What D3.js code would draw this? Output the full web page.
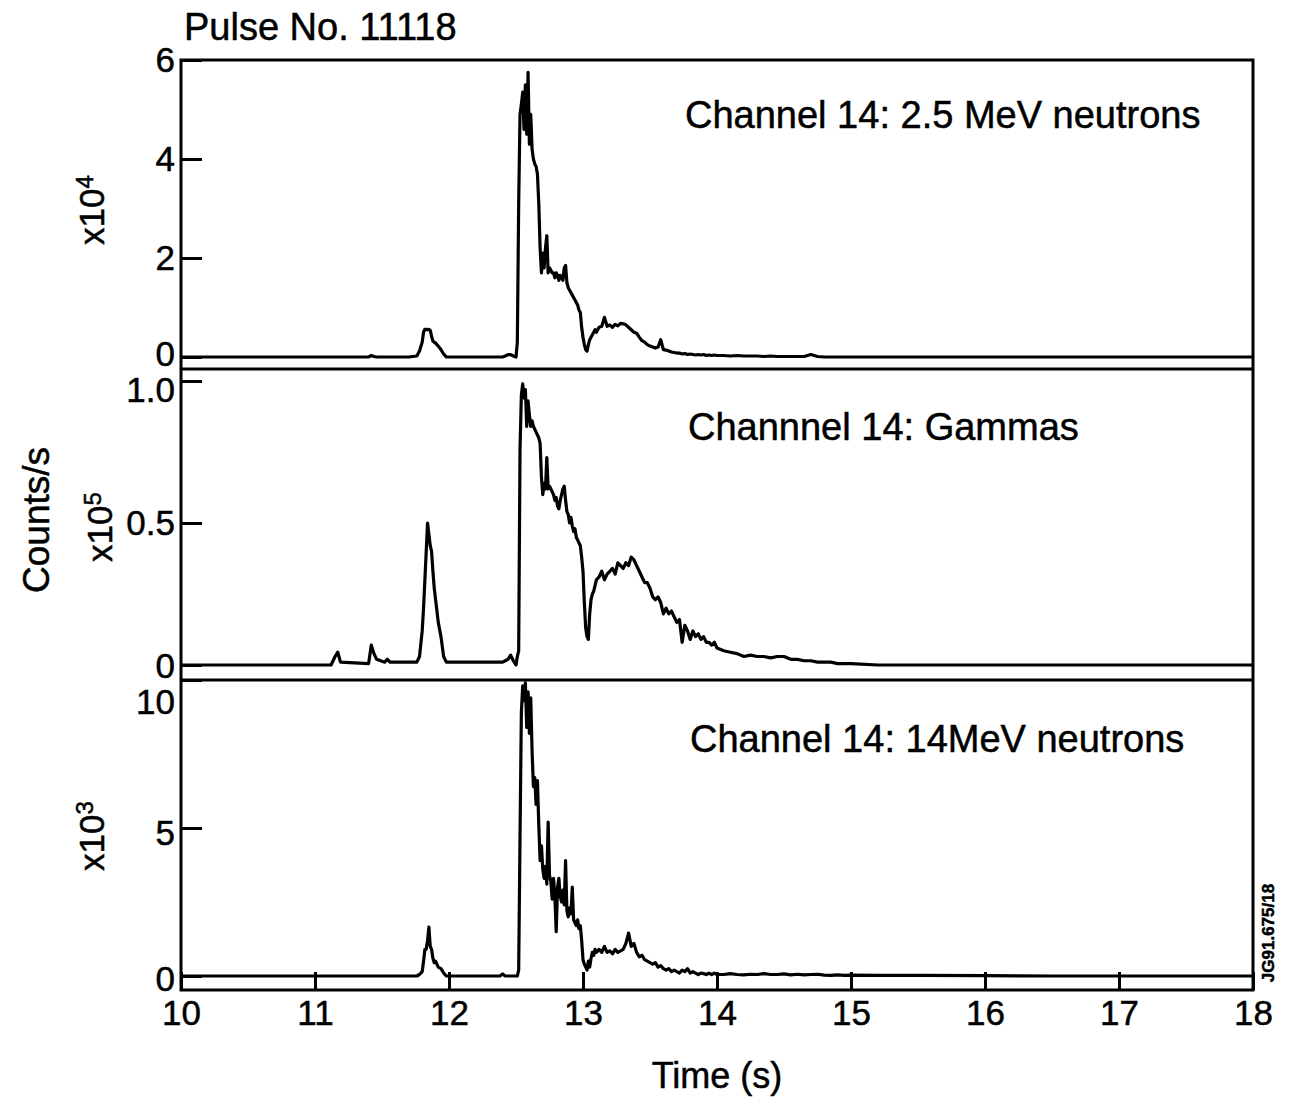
<!DOCTYPE html>
<html>
<head>
<meta charset="utf-8">
<script src="https://cdn.jsdelivr.net/npm/d3@7"></script>
<style>
  body { margin: 0; background: #fff; }
  svg { display: block; }
  svg text { stroke: #000; stroke-width: 0.5px; }
</style>
</head>
<body>
<div id="chart"></div>
<script>
"use strict";

// time base shared by the three traces (s)
const times = [
  10.00, 10.50, 10.95, 10.98, 11.00, 11.12, 11.15, 11.17, 11.19, 11.40,
  11.42, 11.44, 11.46, 11.52, 11.54, 11.56, 11.70, 11.76, 11.78, 11.80,
  11.81, 11.82, 11.83, 11.84, 11.85, 11.86, 11.87, 11.88, 11.89, 11.90,
  11.92, 11.94, 11.96, 11.98, 12.00, 12.30, 12.38, 12.40, 12.42, 12.44,
  12.46, 12.48, 12.50, 12.51, 12.52, 12.53, 12.54, 12.55, 12.56, 12.57,
  12.58, 12.59, 12.60, 12.61, 12.62, 12.63, 12.64, 12.65, 12.66, 12.67,
  12.68, 12.69, 12.70, 12.71, 12.72, 12.73, 12.74, 12.75, 12.76, 12.77,
  12.78, 12.79, 12.80, 12.81, 12.82, 12.83, 12.84, 12.85, 12.86, 12.87,
  12.88, 12.89, 12.90, 12.91, 12.92, 12.93, 12.94, 12.95, 12.96, 12.97,
  12.98, 12.99, 13.00, 13.01, 13.02, 13.03, 13.04, 13.05, 13.06, 13.07,
  13.08, 13.09, 13.10, 13.12, 13.14, 13.16, 13.18, 13.20, 13.22, 13.24,
  13.26, 13.28, 13.30, 13.32, 13.34, 13.36, 13.38, 13.40, 13.42, 13.44,
  13.46, 13.48, 13.50, 13.52, 13.54, 13.56, 13.58, 13.60, 13.62, 13.64,
  13.66, 13.68, 13.70, 13.72, 13.74, 13.76, 13.78, 13.80, 13.82, 13.84,
  13.86, 13.88, 13.90, 13.92, 13.94, 13.96, 13.98, 14.00, 14.05, 14.10,
  14.15, 14.20, 14.25, 14.30, 14.35, 14.40, 14.45, 14.50, 14.55, 14.60,
  14.65, 14.70, 14.75, 14.80, 14.85, 14.90, 14.95, 15.00, 15.20, 15.50,
  16.00, 16.50, 17.00, 17.50, 18.00
];

// 2.5 MeV neutrons, x10^4 counts/s
const neutrons25 = [
  0, 0, 0, 0, 0, 0, 0, 0, 0, 0,
  0.03, 0.01, 0, 0, 0, 0, 0, 0.02, 0.12, 0.3,
  0.5, 0.56, 0.56, 0.55, 0.56, 0.54, 0.42, 0.32, 0.3, 0.28,
  0.22, 0.15, 0.06, 0, 0, 0, 0, 0, 0.02, 0.05,
  0.05, 0.02, 0, 0.3, 3.1, 4.9, 5.1, 5.35, 4.6, 5.5,
  4.5, 5.75, 4.3, 4.9, 4.2, 4.0, 3.9, 3.85, 3.7, 3.1,
  2.2, 1.7, 2.1, 1.8, 2.2, 2.45, 1.7, 1.8, 1.75, 1.7,
  1.7, 1.6, 1.7, 1.65, 1.55, 1.65, 1.6, 1.55, 1.8, 1.85,
  1.5, 1.4, 1.35, 1.3, 1.25, 1.2, 1.15, 1.1, 1.05, 0.95,
  0.9, 0.6, 0.4, 0.25, 0.15, 0.12, 0.25, 0.35, 0.4, 0.45,
  0.5, 0.55, 0.5, 0.6, 0.62, 0.8, 0.62, 0.65, 0.6, 0.66,
  0.63, 0.68, 0.67, 0.65, 0.6, 0.55, 0.5, 0.48, 0.4, 0.33,
  0.3, 0.25, 0.22, 0.2, 0.18, 0.2, 0.35, 0.15, 0.14, 0.12,
  0.1, 0.09, 0.08, 0.08, 0.06, 0.07, 0.05, 0.06, 0.05, 0.04,
  0.05, 0.04, 0.05, 0.03, 0.04, 0.03, 0.04, 0.03, 0.03, 0.02,
  0.03, 0.02, 0.02, 0.02, 0.01, 0.02, 0.01, 0.01, 0.01, 0.01,
  0.01, 0.05, 0.01, 0, 0, 0, 0, 0, 0, 0,
  0, 0, 0, 0, 0
];

// gammas, x10^5 counts/s
const gammas = [
  0, 0, 0, 0, 0, 0, 0.03, 0.045, 0.01, 0.005,
  0.07, 0.04, 0.02, 0.01, 0.02, 0.01, 0.01, 0.01, 0.03, 0.12,
  0.2, 0.3, 0.4, 0.5, 0.46, 0.42, 0.4, 0.33, 0.27, 0.23,
  0.15, 0.1, 0.03, 0.01, 0.01, 0.01, 0.01, 0.01, 0.015, 0.02,
  0.035, 0.015, 0, 0.03, 0.05, 0.76, 0.95, 0.99, 0.94, 0.97,
  0.84, 0.93, 0.88, 0.84, 0.86, 0.84, 0.83, 0.82, 0.81, 0.80,
  0.78, 0.66, 0.60, 0.64, 0.62, 0.73, 0.62, 0.63, 0.62, 0.61,
  0.60, 0.58, 0.59, 0.56, 0.55, 0.58, 0.60, 0.62, 0.63, 0.58,
  0.54, 0.53, 0.50, 0.52, 0.49, 0.47, 0.48, 0.45, 0.44, 0.43,
  0.42, 0.38, 0.33, 0.22, 0.13, 0.10, 0.09, 0.18, 0.23, 0.25,
  0.26, 0.28, 0.30, 0.31, 0.33, 0.30, 0.32, 0.33, 0.34, 0.32,
  0.36, 0.35, 0.34, 0.36, 0.35, 0.38, 0.37, 0.35, 0.33, 0.31,
  0.29, 0.29, 0.27, 0.24, 0.23, 0.24, 0.22, 0.18, 0.2, 0.18,
  0.19, 0.17, 0.15, 0.16, 0.08, 0.14, 0.12, 0.09, 0.12, 0.1,
  0.11, 0.09, 0.1, 0.08, 0.08, 0.07, 0.08, 0.06, 0.05, 0.045,
  0.04, 0.03, 0.035, 0.03, 0.03, 0.025, 0.03, 0.03, 0.02, 0.02,
  0.015, 0.015, 0.01, 0.01, 0.01, 0.005, 0.005, 0.005, 0, 0,
  0, 0, 0, 0, 0
];

// 14 MeV neutrons, x10^3 counts/s
const neutrons14 = [
  0, 0, 0, 0, 0, 0, 0, 0, 0, 0,
  0, 0, 0, 0, 0, 0, 0, 0, 0.05, 0.15,
  0.5, 0.9, 0.9, 1.2, 1.65, 1.0, 0.9, 0.6, 0.45, 0.5,
  0.3, 0.25, 0.1, 0, 0, 0, 0, 0.07, 0, 0,
  0, 0, 0, 0, 0.2, 4.7, 8.9, 9.8, 9.3, 9.9,
  8.4, 9.6, 8.2, 9.4, 7.6, 6.4, 6.7, 5.8, 6.6, 5.1,
  3.9, 4.4, 3.6, 3.3, 3.7, 3.1, 5.2, 3.4, 3.2, 2.6,
  3.3, 2.7, 1.5, 3.0, 3.3, 2.7, 2.5, 2.9, 2.4, 3.9,
  2.2, 2.0, 2.3, 2.1, 3.0, 1.9, 1.8, 1.7, 1.9, 1.6,
  1.7, 1.2, 0.55, 0.4, 0.3, 0.2, 0.5, 0.3, 0.6, 0.8,
  0.7, 0.9, 0.8, 0.9, 0.8, 1.0, 0.8, 0.85, 0.75, 0.9,
  0.8, 0.85, 0.9, 1.1, 1.45, 1.0, 1.1, 0.8, 0.65, 0.7,
  0.55, 0.5, 0.45, 0.4, 0.45, 0.3, 0.35, 0.25, 0.2, 0.25,
  0.15, 0.2, 0.15, 0.1, 0.2, 0.15, 0.25, 0.1, 0.15, 0.1,
  0.05, 0.1, 0.08, 0.05, 0.1, 0.05, 0.1, 0.05, 0.05, 0.08,
  0.05, 0.04, 0.06, 0.05, 0.08, 0.05, 0.05, 0.07, 0.04, 0.06,
  0.04, 0.05, 0.06, 0.03, 0.02, 0.04, 0.02, 0.03, 0.02, 0.02,
  0.01, 0, 0, 0, 0
];

const xTicks = [10, 11, 12, 13, 14, 15, 16, 17, 18];
const ticks25 = [0, 2, 4, 6];
const labels25 = ["0", "2", "4", "6"];
const ticksGamma = [0, 0.5, 1.0];
const labelsGamma = ["0", "0.5", "1.0"];
const ticks14 = [0, 5, 10];
const labels14 = ["0", "5", "10"];

const FONT = '"Liberation Sans", Arial, Helvetica, sans-serif';
const W = 1293, H = 1098;
const left = 181, right = 1253;
const frameTop = 60, frameBottom = 990;
const dividers = [369, 680];

const panels = [
  {
    values: neutrons25, ticks: ticks25, labels: labels25,
    domain: [0, 6], range: [357, 60], nudge: [-3, 0, 0, 0],
    title: "Channel 14: 2.5 MeV neutrons", titleX: 685, titleY: 128,
    exp: "4", expX: 92, expY: 210
  },
  {
    values: gammas, ticks: ticksGamma, labels: labelsGamma,
    domain: [0, 1], range: [665, 381], nudge: [1, 0, 9],
    title: "Channnel 14: Gammas", titleX: 688, titleY: 440,
    exp: "5", expX: 100, expY: 527
  },
  {
    values: neutrons14, ticks: ticks14, labels: labels14,
    domain: [0, 10], range: [976, 680], nudge: [3, 5, 22],
    title: "Channel 14: 14MeV neutrons", titleX: 690, titleY: 752,
    exp: "3", expX: 92, expY: 836
  }
];

const svg = d3.select("#chart")
  .append("svg")
  .attr("width", W)
  .attr("height", H)
  .attr("font-family", FONT);

const x = d3.scaleLinear().domain([10, 18]).range([left, right]);

panels.forEach(p => {
  const y = d3.scaleLinear().domain(p.domain).range(p.range);

  const line = d3.line()
    .x((d, i) => x(times[i]))
    .y(d => y(d));

  svg.append("path")
    .datum(p.values)
    .attr("d", line)
    .attr("fill", "none")
    .attr("stroke", "#000")
    .attr("stroke-width", 3.2)
    .attr("stroke-linejoin", "round");

  const g = svg.append("g")
    .attr("transform", `translate(${left},0)`)
    .call(d3.axisLeft(y)
      .tickValues(p.ticks)
      .tickFormat((d, i) => p.labels[i])
      .tickSizeInner(-21)
      .tickSizeOuter(0)
      .tickPadding(6));
  g.attr("font-family", FONT).attr("font-size", 35);
  g.select(".domain").remove();
  g.selectAll(".tick line").attr("stroke", "#000").attr("stroke-width", 3);
  g.selectAll(".tick text")
    .attr("fill", "#000")
    .attr("y", (d, i) => p.nudge[i]);

  svg.append("text")
    .attr("x", p.titleX)
    .attr("y", p.titleY)
    .attr("font-size", 38)
    .text(p.title);

  const m = svg.append("text")
    .attr("transform", `translate(${p.expX},${p.expY}) rotate(-90)`)
    .attr("text-anchor", "middle")
    .attr("dy", "0.35em")
    .attr("font-size", 35);
  m.append("tspan").text("x10");
  m.append("tspan").attr("dy", "-0.45em").attr("font-size", 24).text(p.exp);
});

// x axis on the bottom panel, ticks pointing in
const gx = svg.append("g")
  .attr("transform", `translate(0,${frameBottom})`)
  .call(d3.axisBottom(x)
    .tickValues(xTicks)
    .tickSizeInner(-18)
    .tickSizeOuter(0)
    .tickPadding(10));
gx.attr("font-family", FONT).attr("font-size", 35);
gx.select(".domain").remove();
gx.selectAll(".tick line").attr("stroke", "#000").attr("stroke-width", 3);
gx.selectAll(".tick text").attr("fill", "#000");

// frame and panel dividers
svg.append("rect")
  .attr("x", left)
  .attr("y", frameTop)
  .attr("width", right - left)
  .attr("height", frameBottom - frameTop)
  .attr("fill", "none")
  .attr("stroke", "#000")
  .attr("stroke-width", 3);

svg.selectAll("line.divider")
  .data(dividers)
  .enter()
  .append("line")
  .attr("class", "divider")
  .attr("x1", left)
  .attr("x2", right)
  .attr("y1", d => d)
  .attr("y2", d => d)
  .attr("stroke", "#000")
  .attr("stroke-width", 3);

svg.append("text")
  .attr("x", 184)
  .attr("y", 40)
  .attr("font-size", 38)
  .text("Pulse No. 11118");

svg.append("text")
  .attr("x", (left + right) / 2)
  .attr("y", 1088)
  .attr("text-anchor", "middle")
  .attr("font-size", 36)
  .text("Time (s)");

svg.append("text")
  .attr("transform", "translate(36,520) rotate(-90)")
  .attr("text-anchor", "middle")
  .attr("dy", "0.35em")
  .attr("font-size", 37)
  .text("Counts/s");

svg.append("text")
  .attr("transform", "translate(1268,933) rotate(-90)")
  .attr("text-anchor", "middle")
  .attr("dy", "0.35em")
  .attr("font-size", 17)
  .attr("font-weight", "bold")
  .attr("stroke-width", 0)
  .text("JG91.675/18");
</script>
</body>
</html>
